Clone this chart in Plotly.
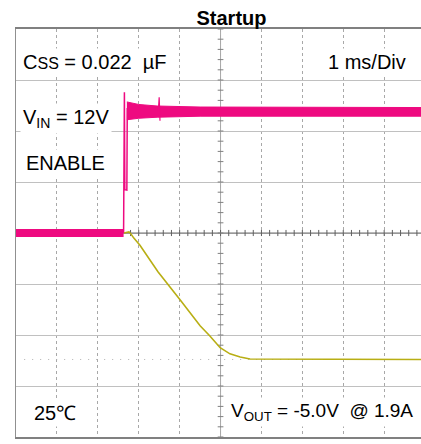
import plotly.graph_objects as go

# ---- data (x in ms = divisions, y in vertical divisions) ----
pink_low_x = [0.0, 2.63]
pink_low_y = [0.0, 0.0]

pink_rise_x = [2.63, 2.65, 2.66, 2.71, 2.72]
pink_rise_y = [0.0, 2.76, 0.85, 0.84, 2.45]

pink_hi_x = [2.71, 3.0, 3.45, 4.5, 9.9]
pink_hi_upper = [2.57, 2.52, 2.49, 2.47, 2.46]
pink_hi_lower = [2.22, 2.25, 2.27, 2.29, 2.29]

pink_spike_x = [3.48, 3.50, 3.52]
pink_spike_y = [2.40, 2.66, 2.20]

yellow_x = [2.64, 2.76, 2.81, 2.88, 3.03, 3.47, 4.01, 4.50, 4.74, 4.99, 5.23, 5.48, 5.72, 9.9]
yellow_y = [0.0, 0.02, -0.02, -0.10, -0.24, -0.76, -1.31, -1.82, -2.02, -2.25, -2.37, -2.43, -2.47, -2.48]

yellow_ref_level = -2.48
trigger_x = 2.63

PINK = "#EE0A80"
YEL = "#B8AE14"
FONT = "Liberation Sans, Arial, sans-serif"

fig = go.Figure()

# center crosshair with tick marks
fig.add_trace(go.Scatter(x=[0, 9.9], y=[0, 0], mode="lines",
                         line=dict(color="#707070", width=1), hoverinfo="skip"))
fig.add_trace(go.Scatter(x=[5, 5], y=[-4, 4], mode="lines",
                         line=dict(color="#a8a8a8", width=1), hoverinfo="skip"))
tx, ty = [], []
k = 0
while k * 0.2 <= 9.9:
    v = k * 0.2
    tx += [v, v, None]
    ty += [-0.06, 0.06, None]
    k += 1
hx, hy = [], []
for j in range(-20, 21):
    v = j * 0.2
    hx += [4.93, 5.07, None]
    hy += [v, v, None]
fig.add_trace(go.Scatter(x=tx, y=ty, mode="lines",
                         line=dict(color="#606060", width=1), hoverinfo="skip"))
fig.add_trace(go.Scatter(x=hx, y=hy, mode="lines",
                         line=dict(color="#808080", width=1), hoverinfo="skip"))

# yellow ground reference dotted line
fig.add_trace(go.Scatter(x=[0.2, 9.9], y=[yellow_ref_level] * 2, mode="lines",
                         line=dict(color="#b0b0b0", width=1, dash="1px,7px"),
                         hoverinfo="skip"))

# pink trace
fig.add_trace(go.Scatter(x=pink_low_x, y=pink_low_y, mode="lines",
                         line=dict(color=PINK, width=8), hoverinfo="skip"))
fig.add_trace(go.Scatter(x=pink_rise_x, y=pink_rise_y, mode="lines",
                         line=dict(color=PINK, width=1.5), hoverinfo="skip"))
fig.add_trace(go.Scatter(x=pink_hi_x, y=pink_hi_lower, mode="lines",
                         line=dict(color=PINK, width=1), hoverinfo="skip"))
fig.add_trace(go.Scatter(x=pink_hi_x, y=pink_hi_upper, mode="lines", fill="tonexty",
                         fillcolor=PINK, line=dict(color=PINK, width=1), hoverinfo="skip"))
fig.add_trace(go.Scatter(x=pink_spike_x, y=pink_spike_y, mode="lines",
                         line=dict(color=PINK, width=1.2), hoverinfo="skip"))

# yellow trace
fig.add_trace(go.Scatter(x=yellow_x, y=yellow_y, mode="lines",
                         line=dict(color=YEL, width=1.6), hoverinfo="skip"))

# trigger marker
fig.add_trace(go.Scatter(x=[trigger_x], y=[-4.1], mode="markers", cliponaxis=False,
                         marker=dict(symbol="triangle-up", size=7, color=PINK),
                         hoverinfo="skip"))
# channel marker
fig.add_trace(go.Scatter(x=[-0.15, 0.0], y=[0, 0], mode="lines", cliponaxis=False,
                         line=dict(color=PINK, width=2), hoverinfo="skip"))

ann = dict(showarrow=False, xref="x", yref="y", bgcolor="white",
           font=dict(family=FONT, size=20, color="black"), borderpad=2)
fig.add_annotation(x=0.1, y=3.35, xanchor="left", yanchor="middle",
                   text="C<span style='font-size:16px'>SS</span> = 0.022\u00a0\u00a0µF", **ann)
fig.add_annotation(x=9.6, y=3.35, xanchor="right", yanchor="middle",
                   text="1 ms/Div", **ann)
fig.add_annotation(x=0.1, y=2.25, xanchor="left", yanchor="middle",
                   text="V<sub>IN</sub> = 12V", **ann)
fig.add_annotation(x=0.18, y=1.37, xanchor="left", yanchor="middle",
                   text="ENABLE", **ann)
fig.add_annotation(x=0.36, y=-3.53, xanchor="left", yanchor="middle",
                   text="25℃", **ann)
fig.add_annotation(x=5.18, y=-3.5, xanchor="left", yanchor="middle",
                   text="V<sub>OUT</sub> = -5.0V\u00a0\u00a0@ 1.9A",
                   showarrow=False, xref="x", yref="y", bgcolor="white", borderpad=2,
                   font=dict(family=FONT, size=19, color="black"))
fig.add_annotation(x=-0.13, y=0.11, xref="x", yref="y", showarrow=False,
                   text="2", textangle=-90,
                   font=dict(family=FONT, size=8, color="#f088b8"))

fig.update_layout(
    width=421, height=444,
    margin=dict(l=16, r=0, t=29, b=7),
    paper_bgcolor="white", plot_bgcolor="white",
    showlegend=False,
    title=dict(text="<b>Startup</b>", x=224 / 421, xanchor="center", xref="paper",
               y=1 - 18 / 444, yanchor="middle",
               font=dict(family=FONT, size=20, color="black")),
    xaxis=dict(range=[0, 9.9], dtick=1, tick0=0, showgrid=True, gridcolor="#a8a8a8",
               griddash="dot", gridwidth=1, zeroline=False, showticklabels=False,
               ticks="", showline=True, linecolor="#808080", linewidth=1.5,
               mirror=True, fixedrange=True),
    yaxis=dict(range=[-4, 4], dtick=1, tick0=0, showgrid=True, gridcolor="#c0c0c0",
               gridwidth=1, zeroline=False, showticklabels=False, ticks="",
               showline=True, linecolor="#909090", linewidth=1, fixedrange=True),
)

fig.write_html("out.html", config={"displayModeBar": False},
               post_script="document.body.style.margin='0px';document.body.style.overflow='hidden';")
